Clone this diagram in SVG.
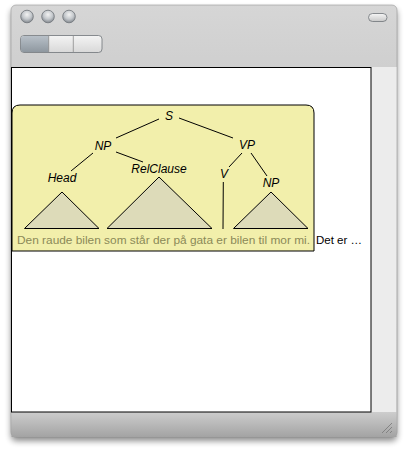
<svg xmlns="http://www.w3.org/2000/svg" width="407" height="450" viewBox="0 0 407 450">
<defs>
<linearGradient id="title" x1="0" y1="0" x2="0" y2="1">
<stop offset="0" stop-color="#d6d6d6"/><stop offset="1" stop-color="#a5a5a5"/>
</linearGradient>
<linearGradient id="bottom" x1="0" y1="0" x2="0" y2="1">
<stop offset="0" stop-color="#cdcdcd"/><stop offset="1" stop-color="#a3a3a3"/>
</linearGradient>
<radialGradient id="btn" cx="0.5" cy="0.35" r="0.6">
<stop offset="0" stop-color="#f2f2f2"/><stop offset="0.6" stop-color="#c4c8cc"/><stop offset="1" stop-color="#8d9298"/>
</radialGradient>
<linearGradient id="seg" x1="0" y1="0" x2="0" y2="1">
<stop offset="0" stop-color="#f4f4f4"/><stop offset="1" stop-color="#d8d8d8"/>
</linearGradient>
<linearGradient id="segsel" x1="0" y1="0" x2="0" y2="1">
<stop offset="0" stop-color="#b8c0c8"/><stop offset="1" stop-color="#8e979f"/>
</linearGradient>
<linearGradient id="pill" x1="0" y1="0" x2="0" y2="1">
<stop offset="0" stop-color="#f6f6f6"/><stop offset="1" stop-color="#c8c8c8"/>
</linearGradient>
<filter id="shadow" x="-10%" y="-10%" width="120%" height="120%">
<feGaussianBlur stdDeviation="3"/>
</filter>
</defs>
<style>
.lbl{font-family:"Liberation Sans",Arial,sans-serif;font-size:12px;font-style:italic;fill:#000;text-anchor:middle}
.edge{stroke:#000;stroke-width:1;fill:none}
.tri{fill:#dddbb9;stroke:#000;stroke-width:1}
.sent{font-family:"Liberation Sans",Arial,sans-serif;font-size:11.5px}
</style>
<rect x="11" y="9" width="386" height="432" rx="5" fill="#000" opacity="0.45" filter="url(#shadow)"/>
<rect x="11" y="5" width="386" height="432" rx="5" fill="url(#title)" stroke="#8a8a8a" stroke-width="0.5"/>
<rect x="11.5" y="412" width="385" height="25" fill="url(#bottom)"/>
<path d="M11.5 432 Q11.5 437 16 437 L392 437 Q396.5 437 396.5 432 L396.5 412 L11.5 412 Z" fill="url(#bottom)"/>
<circle cx="27" cy="16.5" r="6.3" fill="url(#btn)" stroke="#6f7479" stroke-width="0.8"/>
<circle cx="48" cy="16.5" r="6.3" fill="url(#btn)" stroke="#6f7479" stroke-width="0.8"/>
<circle cx="69" cy="16.5" r="6.3" fill="url(#btn)" stroke="#6f7479" stroke-width="0.8"/>
<rect x="368.5" y="13.5" width="18.5" height="8" rx="4" fill="url(#pill)" stroke="#6f7479" stroke-width="0.8"/>
<rect x="20.5" y="35.5" width="81.5" height="17" rx="3.5" fill="url(#seg)" stroke="#6f7479" stroke-width="0.8"/>
<path d="M24 35.9 L48.7 35.9 L48.7 52.1 L24 52.1 Q20.9 52.1 20.9 49 L20.9 39 Q20.9 35.9 24 35.9 Z" fill="url(#segsel)"/>
<line x1="48.7" y1="36" x2="48.7" y2="52" stroke="#8a8a8a" stroke-width="0.8"/>
<line x1="73.3" y1="36" x2="73.3" y2="52" stroke="#8a8a8a" stroke-width="0.8"/>
<rect x="371" y="67" width="25.5" height="345" fill="#ececec"/>
<rect x="11.5" y="67.5" width="359.5" height="344.5" fill="#fff" stroke="#000" stroke-width="1"/>
<g stroke="#777" stroke-width="0.8">
<line x1="382" y1="433" x2="392" y2="423"/>
<line x1="386" y1="433" x2="392" y2="427"/>
<line x1="390" y1="433" x2="392" y2="431"/>
</g>
<g id="box">
<path d="M12 251 L12 113 Q12 105 20 105 L306 105 Q314 105 314 113 L314 251 Z" fill="#f2efab" stroke="#000" stroke-width="1"/>
</g>
<g id="connectors">
<line class="edge" x1="116" y1="138" x2="159" y2="119"/>
<line class="edge" x1="179" y1="118" x2="233" y2="138"/>
<line class="edge" x1="93" y1="153" x2="71" y2="171"/>
<line class="edge" x1="116" y1="152" x2="143" y2="162"/>
<line class="edge" x1="242" y1="153" x2="229" y2="167"/>
<line class="edge" x1="251" y1="153" x2="267" y2="176"/>
<line class="edge" x1="223.3" y1="182" x2="223" y2="229"/>
</g>
<g id="S"><text class="lbl" x="169" y="119.5">S</text></g>
<g id="NP1"><text class="lbl" x="103" y="149.5">NP</text></g>
<g id="Head"><text class="lbl" x="62" y="181.5">Head</text></g>
<g id="RelClause"><text class="lbl" x="159" y="172.5">RelClause</text></g>
<g id="VP"><text class="lbl" x="247" y="148.5">VP</text></g>
<g id="V"><text class="lbl" x="224" y="177.5">V</text></g>
<g id="NP2"><text class="lbl" x="271" y="186.5">NP</text></g>
<g id="tri1"><polygon class="tri" points="62,192 24.5,228.5 99,228.5"/></g>
<g id="tri2"><polygon class="tri" points="159,177 107,228.5 212,228.5"/></g>
<g id="tri3"><polygon class="tri" points="271,192 233.5,228.5 308,228.5"/></g>
<g id="sentence">
<text class="sent" x="17" y="244" fill="#8b8958" textLength="293" lengthAdjust="spacingAndGlyphs">Den raude bilen som står der på gata er bilen til mor mi.</text>
<text class="sent" x="316" y="244" fill="#000" textLength="46" lengthAdjust="spacingAndGlyphs">Det er …</text>
</g>
</svg>
